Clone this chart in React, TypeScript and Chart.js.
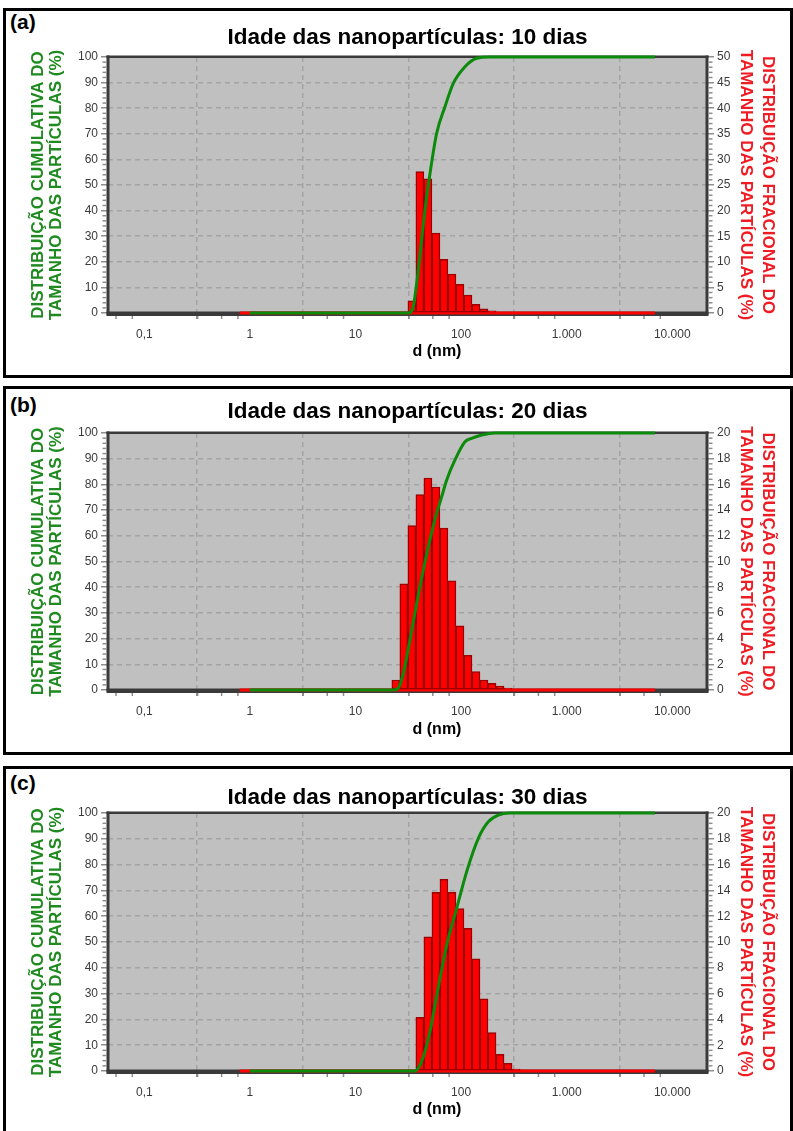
import React, { useEffect, useRef } from "react";
import { Chart, registerables } from "chart.js";

Chart.register(...registerables);

const FONT = "'Liberation Sans', Arial, Helvetica, sans-serif";

// ---------- shared axis data ----------
const xTickValues = [0.1, 1, 10, 100, 1000, 10000];
const xTickLabels = ["0,1", "1", "10", "100", "1.000", "10.000"];
const xMinorFactors = [3.2, 5.4, 7.7];
const leftTitle = ["DISTRIBUIÇÃO CUMULATIVA DO", "TAMANHO DAS PARTÍCULAS (%)"];
const rightTitle = ["DISTRIBUIÇÃO FRACIONAL DO", "TAMANHO DAS PARTÍCULAS (%)"];
const xTitle = "d (nm)";
const baselineDiam = [0.8, 6860];

// ---------- panel (a): 10 dias ----------
const titleA = "Idade das nanopartículas: 10 dias";
const diamA = [34.2, 40.7, 48.5, 57.8, 68.8, 81.9, 97.6, 116.2, 138.4, 164.8, 196.3];
const fracA = [2.4, 27.6, 26.2, 15.6, 10.5, 7.6, 5.6, 3.5, 1.7, 0.8, 0.4];
const cumDiamA = [1, 31.6, 35.2, 38.0, 45.5, 50.0, 58.7, 70.4, 84.4, 108.9, 140.5, 188, 6860];
const cumA = [0, 0, 2.5, 11.6, 40.2, 52.6, 70.2, 80.6, 89.7, 96.2, 99.5, 100, 100];

// ---------- panel (b): 20 dias ----------
const titleB = "Idade das nanopartículas: 20 dias";
const diamB = [24.1, 28.7, 34.2, 40.7, 48.5, 57.8, 68.8, 81.9, 97.6, 116.2, 138.4, 164.8, 196.3, 233.8, 278.5];
const fracB = [0.78, 8.26, 12.8, 15.2, 16.5, 15.8, 12.6, 8.5, 5.0, 2.7, 1.43, 0.78, 0.52, 0.3, 0.15];
const cumDiamB = [1, 23.4, 25.4, 28.4, 32.8, 38.0, 43.9, 50.7, 58.7, 65.5, 73.1, 87.5, 108.9, 126, 156.7, 209.5, 6860];
const cumB = [0, 0, 0.7, 6.5, 19.5, 33.7, 46.7, 58.4, 68.8, 75.2, 81.7, 89.5, 96.6, 97.9, 99.2, 100, 100];

// ---------- panel (c): 30 dias ----------
const titleC = "Idade das nanopartículas: 30 dias";
const diamC = [40.7, 48.5, 57.8, 68.8, 81.9, 97.6, 116.2, 138.4, 164.8, 196.3, 233.8, 278.5, 331.7];
const fracC = [4.16, 10.4, 13.85, 14.86, 13.85, 12.6, 11.06, 8.7, 5.6, 2.97, 1.3, 0.6, 0.15];
const cumDiamC = [1, 36.6, 40.8, 45.5, 50.7, 56.6, 73.1, 90.8, 113, 145.6, 181, 225, 290, 6860];
const cumC = [0, 0, 2.3, 7.5, 15.2, 25.6, 48.8, 63, 77.3, 90.2, 96.6, 99.2, 100, 100];

// ---------- styles ----------
const PLOT_BG = "#c0c0c0";
const GRID = "#a3a3a3";
const TICK = "#8e8e8e";
const FRAME = "#3a3a3a";
const TICK_TXT = "#3a3a3a";
const GREEN_LINE = "#0b8a0b";
const GREEN_TXT = "#1f8a1f";
const RED_TXT = "#ef1c24";
const BAR_FILL = "#ff0000";
const BAR_EDGE = "#9a0000";

type PanelSpec = {
  letter: string;
  title: string;
  diam: number[];
  frac: number[];
  cumDiam: number[];
  cum: number[];
  rightMax: number;
  rightStep: number;
  top: number;
  height: number;
  boxHeight: number;
  titlePadTop: number;
  titlePadBottom: number;
  xAxisHeight: number;
  letterTop: number;
  xTitleTop: number;
};

const panels: PanelSpec[] = [
  { letter: "(a)", title: titleA, diam: diamA, frac: fracA, cumDiam: cumDiamA, cum: cumA, rightMax: 50, rightStep: 5,
    top: 8, height: 370, boxHeight: 370, titlePadTop: 16, titlePadBottom: 6, xAxisHeight: 65, letterTop: 11, xTitleTop: 343 },
  { letter: "(b)", title: titleB, diam: diamB, frac: fracB, cumDiam: cumDiamB, cum: cumB, rightMax: 20, rightStep: 2,
    top: 386, height: 369, boxHeight: 369, titlePadTop: 12, titlePadBottom: 8, xAxisHeight: 65, letterTop: 394, xTitleTop: 721 },
  { letter: "(c)", title: titleC, diam: diamC, frac: fracC, cumDiam: cumDiamC, cum: cumC, rightMax: 20, rightStep: 2,
    top: 766, height: 365, boxHeight: 400, titlePadTop: 18, titlePadBottom: 2, xAxisHeight: 60, letterTop: 772, xTitleTop: 1101 },
];

const decoPlugin = {
  id: "deco",
  beforeDraw(chart: any) {
    const { ctx, chartArea: a } = chart;
    ctx.save();
    ctx.fillStyle = PLOT_BG;
    ctx.fillRect(a.left, a.top, a.right - a.left, a.bottom - a.top);
    ctx.restore();
  },
  beforeDatasetsDraw(chart: any) {
    const { ctx, chartArea: a, scales } = chart;
    ctx.save();
    ctx.fillStyle = FRAME;
    // left, right, top frame bars
    ctx.fillRect(a.left - 1.5, a.top - 1.5, 3, a.bottom - a.top + 3);
    ctx.fillRect(a.right - 1.5, a.top - 1.5, 3, a.bottom - a.top + 3);
    ctx.fillRect(a.left - 1.5, a.top - 1.5, a.right - a.left + 3, 2.5);
    // thicker bottom band
    ctx.fillRect(a.left - 1.5, a.bottom - 1.5, a.right - a.left + 3, 4.5);
    ctx.strokeStyle = TICK;
    ctx.lineWidth = 1.5;
    const seg = (x1: number, y1: number, x2: number, y2: number) => {
      ctx.beginPath();
      ctx.moveTo(x1, y1);
      ctx.lineTo(x2, y2);
      ctx.stroke();
    };
    const xs = scales.x;
    for (let e = -2; e <= 4; e++) {
      for (const f of xMinorFactors) {
        const v = f * Math.pow(10, e);
        if (v <= xs.min || v >= xs.max) continue;
        const px = xs.getPixelForValue(v);
        seg(px, a.bottom + 3, px, a.bottom + 6);
      }
    }
    const yl = scales.yL;
    for (let k = 1; k < 50; k++) {
      if (k % 5 === 0) continue;
      const py = yl.getPixelForValue(k * 2);
      seg(a.left - 5.5, py, a.left - 1.5, py);
    }
    const yr = scales.yR;
    const st = yr.options.ticks.stepSize / 5;
    for (let k = 1; k * st < yr.max - 1e-9; k++) {
      if (k % 5 === 0) continue;
      const py = yr.getPixelForValue(k * st);
      seg(a.right + 1.5, py, a.right + 5.5, py);
    }
    ctx.restore();
  },
};

function Panel({ spec }: { spec: PanelSpec }) {
  const ref = useRef<HTMLCanvasElement>(null);
  useEffect(() => {
    if (!ref.current) return;
    const tickFont = { family: FONT, size: 12 };
    const chart = new Chart(ref.current, {
      type: "bar",
      data: {
        datasets: [
          {
            type: "line",
            label: "cumulativa",
            data: spec.cumDiam.map((d, i) => ({ x: d, y: spec.cum[i] })),
            xAxisID: "x",
            yAxisID: "yL",
            borderColor: GREEN_LINE,
            borderWidth: 3,
            pointRadius: 0,
            cubicInterpolationMode: "monotone",
            fill: false,
            clip: false,
            order: 0,
          } as any,
          {
            type: "bar",
            label: "fracional",
            data: spec.diam.map((d, i) => ({ x: d, y: spec.frac[i] })),
            xAxisID: "x",
            yAxisID: "yR",
            backgroundColor: BAR_FILL,
            borderColor: BAR_EDGE,
            borderWidth: 1.5,
            borderSkipped: false,
            barPercentage: 1,
            categoryPercentage: 1,
            barThickness: "flex",
            clip: false,
            order: 1,
          } as any,
          {
            type: "line",
            label: "base",
            data: baselineDiam.map((d) => ({ x: d, y: 0 })),
            xAxisID: "x",
            yAxisID: "yR",
            borderColor: BAR_FILL,
            borderWidth: 3,
            pointRadius: 0,
            fill: false,
            clip: false,
            order: 2,
          } as any,
        ],
      },
      options: {
        responsive: false,
        maintainAspectRatio: false,
        animation: false,
        events: [],
        layout: { padding: 0 },
        plugins: {
          legend: { display: false },
          tooltip: { enabled: false },
          title: {
            display: true,
            text: spec.title,
            fullSize: false,
            color: "#000",
            font: { family: FONT, size: 22.5, weight: "bold", lineHeight: 1.2 },
            padding: { top: spec.titlePadTop, bottom: spec.titlePadBottom },
          },
        },
        scales: {
          x: {
            type: "logarithmic",
            position: "bottom",
            min: 0.0453,
            max: 21330,
            afterBuildTicks: (s: any) => {
              s.ticks = xTickValues.map((v) => ({ value: v }));
            },
            afterFit: (s: any) => {
              s.height = spec.xAxisHeight;
            },
            ticks: {
              autoSkip: false,
              maxRotation: 0,
              color: TICK_TXT,
              font: tickFont,
              padding: 8.8,
              callback: (_v: any, i: number) => xTickLabels[i],
            },
            grid: {
              color: GRID,
              lineWidth: 1.5,
              tickLength: 6,
              tickColor: TICK,
              tickWidth: 1.5,
              tickBorderDash: [],
            },
            border: { display: false, dash: [5, 4] },
          },
          yL: {
            type: "linear",
            position: "left",
            min: 0,
            max: 100,
            afterFit: (s: any) => {
              s.width = 108;
            },
            ticks: { stepSize: 10, color: TICK_TXT, font: tickFont, padding: 3 },
            grid: {
              color: GRID,
              lineWidth: 1.5,
              tickLength: 7,
              tickColor: TICK,
              tickWidth: 1.5,
              tickBorderDash: [],
            },
            border: { display: false, dash: [5, 4] },
            title: {
              display: true,
              text: leftTitle,
              color: GREEN_TXT,
              font: { family: FONT, size: 17, weight: "bold", lineHeight: 18 / 17 },
              padding: { top: 29, bottom: 0 },
            },
          },
          yR: {
            type: "linear",
            position: "right",
            min: 0,
            max: spec.rightMax,
            afterFit: (s: any) => {
              s.width = 86;
            },
            ticks: { stepSize: spec.rightStep, color: TICK_TXT, font: tickFont, padding: 3 },
            grid: {
              drawOnChartArea: false,
              lineWidth: 1.5,
              tickLength: 7,
              tickColor: TICK,
              tickWidth: 1.5,
              tickBorderDash: [],
            },
            border: { display: false },
            title: {
              display: true,
              text: rightTitle,
              color: RED_TXT,
              font: { family: FONT, size: 17, weight: "bold", lineHeight: 22 / 17 },
              padding: { top: 14, bottom: 0 },
            },
          },
        },
      } as any,
      plugins: [decoPlugin],
    });
    return () => chart.destroy();
  }, [spec]);

  return (
    <>
      <div
        style={{
          position: "absolute",
          left: 3,
          top: spec.top,
          width: 790,
          height: spec.boxHeight,
          border: "3px solid #000",
          boxSizing: "border-box",
        }}
      />
      <div
        style={{
          position: "absolute",
          left: 10,
          top: spec.letterTop,
          font: `bold 21px ${FONT}`,
          lineHeight: "21px",
          color: "#000",
        }}
      >
        {spec.letter}
      </div>
      <canvas
        ref={ref}
        width={793}
        height={spec.height}
        style={{ position: "absolute", left: 0, top: spec.top, width: 793, height: spec.height }}
      />
      <div
        style={{
          position: "absolute",
          left: 337,
          width: 200,
          top: spec.xTitleTop,
          textAlign: "center",
          font: `bold 16px ${FONT}`,
          lineHeight: "16px",
          color: "#000",
        }}
      >
        {xTitle}
      </div>
    </>
  );
}

export default function App() {
  return (
    <div
      style={{
        position: "absolute",
        left: 0,
        top: 0,
        width: 793,
        height: 1131,
        overflow: "hidden",
        background: "#fff",
      }}
    >
      {panels.map((p) => (
        <Panel key={p.letter} spec={p} />
      ))}
    </div>
  );
}
